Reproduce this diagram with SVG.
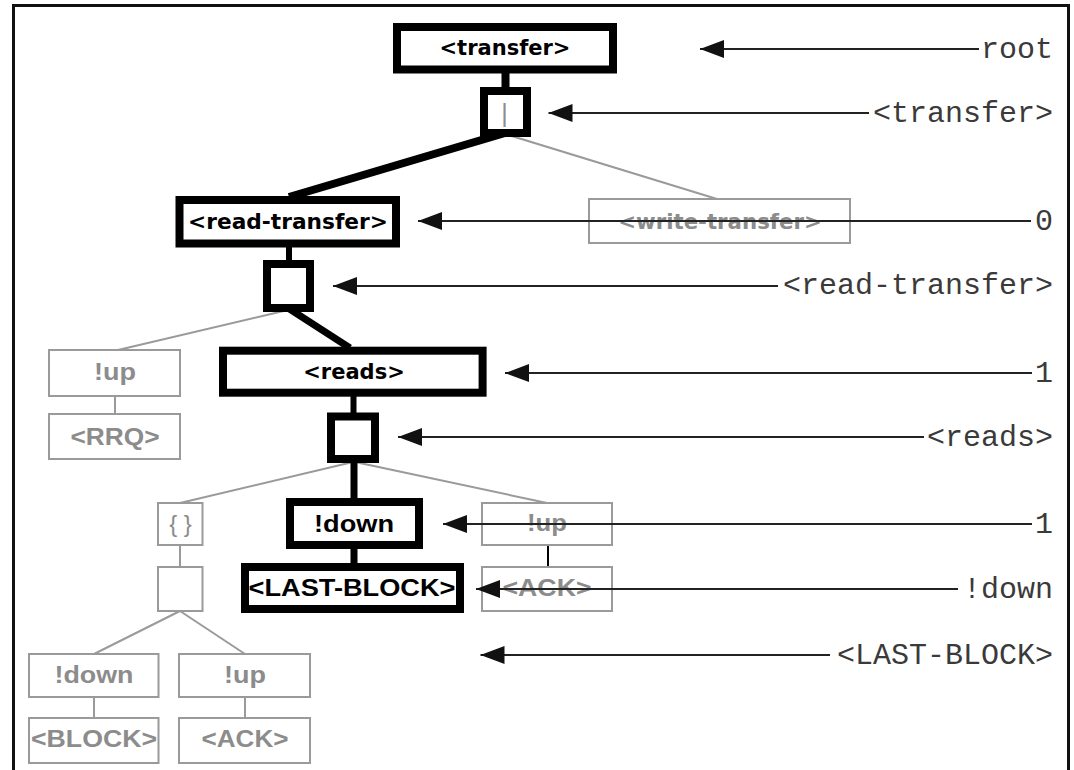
<svg xmlns="http://www.w3.org/2000/svg" width="1074" height="770" viewBox="0 0 1074 770">
<defs>
<marker id="ah" markerUnits="userSpaceOnUse" markerWidth="26" markerHeight="20" refX="24" refY="9" orient="auto">
<path d="M0,0 L24,9 L0,18 z" fill="#111"/>
</marker>
<style>
.thick{fill:#fff;stroke:#000;stroke-width:8}
.thin{fill:#fff;stroke:#9a9a9a;stroke-width:2}
.t{font-family:"DejaVu Sans",sans-serif;font-weight:bold;text-anchor:middle;fill:#000}
.g{font-family:"DejaVu Sans",sans-serif;font-weight:bold;text-anchor:middle;fill:#8c8c8c}
.ta{font-family:"Liberation Sans",Arial,sans-serif;font-weight:bold;font-size:23px;text-anchor:middle;fill:#000}
.ga{font-family:"Liberation Sans",Arial,sans-serif;font-weight:bold;font-size:23px;text-anchor:middle;fill:#8c8c8c}
.lab{font-family:"Liberation Mono","Courier New",monospace;font-size:30px;text-anchor:end;fill:#3a3a3a}
.gc{stroke:#9a9a9a;stroke-width:2;fill:none}
.bc{stroke:#000;fill:none}
.ar{stroke:#222;stroke-width:2;fill:none;marker-end:url(#ah)}
</style>
</defs>
<rect width="1074" height="770" fill="#fff"/>
<rect x="13.5" y="5.5" width="1055" height="800" fill="none" stroke="#111" stroke-width="3"/>

<g id="connectors">
<line class="gc" x1="505" y1="134" x2="717" y2="199"/>
<line class="gc" x1="288" y1="310" x2="118" y2="350"/>
<line class="gc" x1="115" y1="396" x2="115" y2="414"/>
<line class="gc" x1="353" y1="462" x2="180" y2="503"/>
<line class="gc" x1="355" y1="462" x2="547" y2="503"/>
<line class="gc" x1="180" y1="545" x2="180" y2="567"/>
<line class="gc" x1="180" y1="611" x2="94" y2="654"/>
<line class="gc" x1="180" y1="611" x2="245" y2="654"/>
<line class="gc" x1="94" y1="697" x2="94" y2="718"/>
<line class="gc" x1="245" y1="697" x2="245" y2="718"/>
<line class="bc" stroke-width="2" x1="548" y1="545" x2="548" y2="567"/>
<line class="bc" stroke-width="8" x1="505.5" y1="72" x2="505.5" y2="88"/>
<line class="bc" stroke-width="8" x1="505" y1="133" x2="289" y2="197"/>
<line class="bc" stroke-width="6" x1="289" y1="246" x2="289" y2="261"/>
<line class="bc" stroke-width="7" x1="288" y1="308" x2="350" y2="348"/>
<line class="bc" stroke-width="6" x1="353.5" y1="396" x2="353.5" y2="413"/>
<line class="bc" stroke-width="7" x1="354" y1="462" x2="354" y2="499"/>
<line class="bc" stroke-width="7" x1="354" y1="548" x2="354" y2="564"/>
</g>

<g id="n-transfer"><rect class="thick" x="397" y="27" width="216" height="42.5"/><text class="t" x="505" y="55" font-size="21">&lt;transfer&gt;</text></g>
<g id="n-choice1"><rect class="thick" x="484" y="91" width="43" height="42"/><text x="504.5" y="122" font-family="Liberation Sans,sans-serif" font-size="25" fill="#8c8c8c" text-anchor="middle">|</text></g>
<g id="n-read-transfer"><rect class="thick" x="179.5" y="200" width="216.5" height="43.5"/><text class="t" x="288" y="228.5" font-size="21.7">&lt;read-transfer&gt;</text></g>
<g id="n-write-transfer"><rect class="thin" x="589" y="199" width="261" height="44"/><text class="g" x="720" y="229" font-size="21.3">&lt;write-transfer&gt;</text></g>
<g id="n-choice2"><rect class="thick" x="267" y="264" width="43" height="44"/></g>
<g id="n-up1"><rect class="thin" x="49" y="350" width="131" height="46"/><text class="ga" x="115" y="380" textLength="42" lengthAdjust="spacingAndGlyphs">!up</text></g>
<g id="n-rrq"><rect class="thin" x="49" y="414" width="131" height="45"/><text class="ga" x="115" y="444.5" textLength="89" lengthAdjust="spacingAndGlyphs">&lt;RRQ&gt;</text></g>
<g id="n-reads"><rect class="thick" x="223" y="350.7" width="259.6" height="42"/><text class="t" x="354" y="378.5" font-size="21">&lt;reads&gt;</text></g>
<g id="n-choice3"><rect class="thick" x="331" y="416.5" width="44" height="42.5"/></g>
<g id="n-rep"><rect class="thin" x="158" y="503" width="44.5" height="42"/><text x="180.5" y="532" font-family="Liberation Sans,sans-serif" font-size="24" fill="#8c8c8c" text-anchor="middle">{ }</text></g>
<g id="n-seq"><rect class="thin" x="158" y="567" width="44.5" height="44"/></g>
<g id="n-down1"><rect class="thick" x="290" y="502" width="129" height="43"/><text class="ta" x="354" y="531.5" font-size="24" textLength="80" lengthAdjust="spacingAndGlyphs">!down</text></g>
<g id="n-lastblock"><rect class="thick" x="245" y="567" width="215" height="42"/><text class="ta" x="352" y="596" font-size="24" textLength="207" lengthAdjust="spacingAndGlyphs">&lt;LAST-BLOCK&gt;</text></g>
<g id="n-up2"><rect class="thin" x="482" y="503" width="130" height="42"/><text class="ga" x="547" y="531" textLength="40" lengthAdjust="spacingAndGlyphs">!up</text></g>
<g id="n-ack1"><rect class="thin" x="482" y="567" width="130" height="44"/><text class="ga" x="547" y="596" textLength="89" lengthAdjust="spacingAndGlyphs">&lt;ACK&gt;</text></g>
<g id="n-down2"><rect class="thin" x="29" y="654" width="129.5" height="43"/><text class="ga" x="94" y="683" textLength="79" lengthAdjust="spacingAndGlyphs">!down</text></g>
<g id="n-up3"><rect class="thin" x="179" y="654" width="131" height="43"/><text class="ga" x="245" y="683" textLength="42" lengthAdjust="spacingAndGlyphs">!up</text></g>
<g id="n-block"><rect class="thin" x="29" y="718" width="129.5" height="45"/><text class="ga" x="94" y="747" textLength="126" lengthAdjust="spacingAndGlyphs">&lt;BLOCK&gt;</text></g>
<g id="n-ack2"><rect class="thin" x="179" y="718" width="131" height="45"/><text class="ga" x="245" y="747" textLength="87" lengthAdjust="spacingAndGlyphs">&lt;ACK&gt;</text></g>

<g id="annotation-arrows">
<line class="ar" x1="979" y1="49" x2="700" y2="49"/>
<line class="ar" x1="869" y1="113" x2="548.5" y2="113"/>
<line class="ar" x1="1031" y1="221" x2="418" y2="221"/>
<line class="ar" x1="778" y1="286" x2="333" y2="286"/>
<line class="ar" x1="1032" y1="373" x2="505" y2="373"/>
<line class="ar" x1="924" y1="437" x2="398" y2="437"/>
<line class="ar" x1="1032" y1="524" x2="443" y2="524"/>
<line class="ar" x1="958" y1="589" x2="476" y2="589"/>
<line class="ar" x1="830" y1="655" x2="480.5" y2="655"/>
</g>

<g id="labels">
<text class="lab" x="1053" y="58">root</text>
<text class="lab" x="1053" y="122">&lt;transfer&gt;</text>
<text class="lab" x="1053" y="230">0</text>
<text class="lab" x="1053" y="294">&lt;read-transfer&gt;</text>
<text class="lab" x="1053" y="382">1</text>
<text class="lab" x="1053" y="446">&lt;reads&gt;</text>
<text class="lab" x="1053" y="533">1</text>
<text class="lab" x="1053" y="598">!down</text>
<text class="lab" x="1053" y="664">&lt;LAST-BLOCK&gt;</text>
</g>
</svg>
